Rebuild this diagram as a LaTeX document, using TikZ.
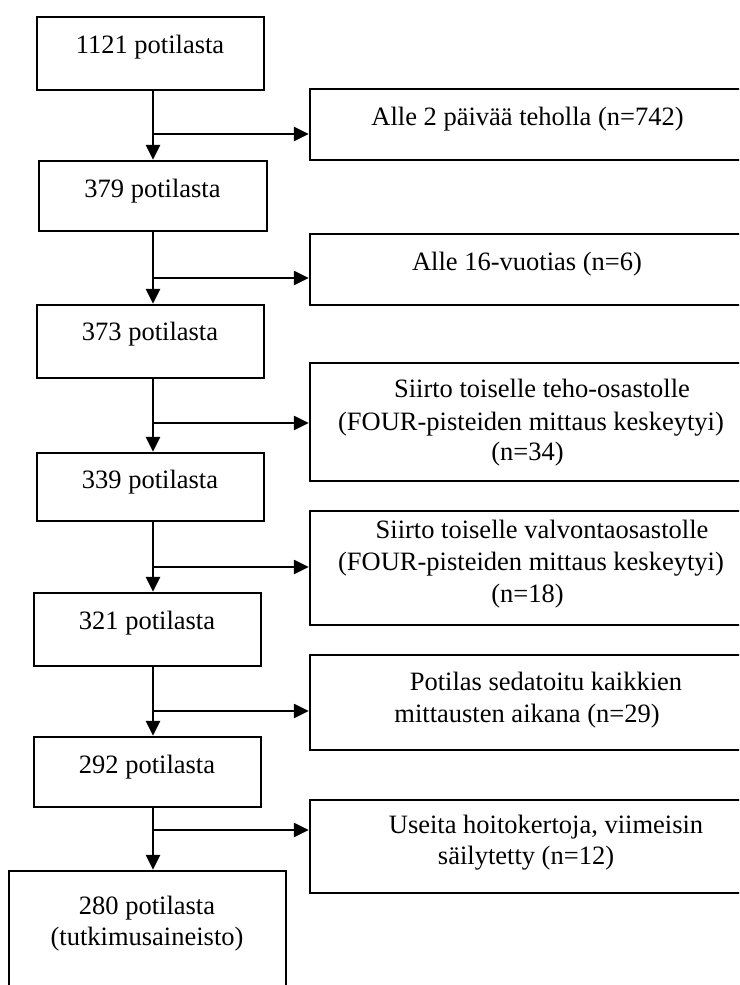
\documentclass[tikz,border=0pt]{standalone}
\usepackage{fontspec}
\setmainfont{Liberation Serif}
\usetikzlibrary{arrows.meta}
\begin{document}
\begin{tikzpicture}[x=1pt,y=-1pt,
  box/.style={draw=black,line width=2.3pt,rectangle,inner sep=0pt},
  txt/.style={anchor=base,inner sep=0pt,font=\fontsize{26.5}{32}\selectfont},
  arr/.style={line width=2.3pt,-{Triangle[length=15pt,width=14pt]}}]
\useasboundingbox (0,0) rectangle (739,985);
\fill[white] (0,0) rectangle (739,985);
\clip (0,0) rectangle (739,985);
% left boxes
\node[box,minimum width=227pt,minimum height=73pt] (b1) at (150.5,53.5) {};
\node[box,minimum width=228pt,minimum height=70pt] (b2) at (153,196) {};
\node[box,minimum width=227pt,minimum height=73pt] (b3) at (150.5,341.5) {};
\node[box,minimum width=227pt,minimum height=68pt] (b4) at (150.5,487) {};
\node[box,minimum width=227pt,minimum height=73pt] (b5) at (147.5,629.5) {};
\node[box,minimum width=227pt,minimum height=70pt] (b6) at (147.5,772) {};
\node[box,minimum width=277pt,minimum height=139pt] (b7) at (147.5,940.5) {};
% right boxes
\node[box,minimum width=450pt,minimum height=71pt] (r1) at (535,124.5) {};
\node[box,minimum width=450pt,minimum height=71pt] (r2) at (535,269.5) {};
\node[box,minimum width=450pt,minimum height=118pt] (r3) at (535,422) {};
\node[box,minimum width=450pt,minimum height=114pt] (r4) at (535,568) {};
\node[box,minimum width=450pt,minimum height=95pt] (r5) at (535,702.5) {};
\node[box,minimum width=450pt,minimum height=93pt] (r6) at (535,846.5) {};
% texts
\node[txt] (t1) at (150,53.3) {1121 potilasta};
\node[txt] (t2) at (152.5,197) {379 potilasta};
\node[txt] (t3) at (150,340) {373 potilasta};
\node[txt] (t4) at (150,488) {339 potilasta};
\node[txt] (t5) at (147,629) {321 potilasta};
\node[txt] (t6) at (147,773) {292 potilasta};
\node[txt] (t7a) at (147,914) {280 potilasta};
\node[txt] (t7b) at (147,945) {(tutkimusaineisto)};
\node[txt] (s1) at (527.5,125) {Alle 2 päivää teholla (n=742)};
\node[txt] (s2) at (527,270) {Alle 16-vuotias (n=6)};
\node[txt] (s3a) at (542,397) {Siirto toiselle teho-osastolle};
\node[txt] (s3b) at (531,430) {(FOUR-pisteiden mittaus keskeytyi)};
\node[txt] (s3c) at (527.5,460) {(n=34)};
\node[txt] (s4a) at (542,538) {Siirto toiselle valvontaosastolle};
\node[txt] (s4b) at (531,570) {(FOUR-pisteiden mittaus keskeytyi)};
\node[txt] (s4c) at (527.5,602) {(n=18)};
\node[txt] (s5a) at (546,690) {Potilas sedatoitu kaikkien};
\node[txt] (s5b) at (527,722) {mittausten aikana (n=29)};
\node[txt] (s6a) at (546,833) {Useita hoitokertoja, viimeisin};
\node[txt] (s6b) at (526,864) {säilytetty (n=12)};
% junctions
\coordinate (j1) at (153,134);
\coordinate (j2) at (153,278);
\coordinate (j3) at (153,423);
\coordinate (j4) at (153,567);
\coordinate (j5) at (153,711);
\coordinate (j6) at (153,830);
% vertical arrows
\draw[arr] (b1.south -| j1) -- (b2.north -| j1);
\draw[arr] (b2.south -| j2) -- (b3.north -| j2);
\draw[arr] (b3.south -| j3) -- (b4.north -| j3);
\draw[arr] (b4.south -| j4) -- (b5.north -| j4);
\draw[arr] (b5.south -| j5) -- (b6.north -| j5);
\draw[arr] (b6.south -| j6) -- (b7.north -| j6);
% branches
\draw[arr] (j1) -- (j1 -| r1.west);
\draw[arr] (j2) -- (j2 -| r2.west);
\draw[arr] (j3) -- (j3 -| r3.west);
\draw[arr] (j4) -- (j4 -| r4.west);
\draw[arr] (j5) -- (j5 -| r5.west);
\draw[arr] (j6) -- (j6 -| r6.west);
\end{tikzpicture}
\end{document}
